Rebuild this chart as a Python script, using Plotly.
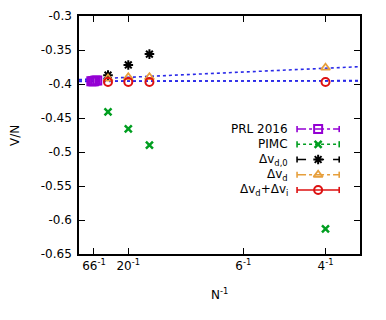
import plotly.graph_objects as go

# data (x is 1/N)
prl_x = [1 / 80, 1 / 72, 1 / 66, 1 / 60, 1 / 54]
prl_y = [-0.396, -0.396, -0.396, -0.395, -0.395]

pimc_x = [1 / 34, 1 / 20, 1 / 14, 1 / 4]
pimc_y = [-0.441, -0.466, -0.490, -0.613]

dvd0_x = [1 / 34, 1 / 20, 1 / 14]
dvd0_y = [-0.387, -0.372, -0.356]

dvd_x = [1 / 34, 1 / 20, 1 / 14, 1 / 4]
dvd_y = [-0.392, -0.390, -0.390, -0.376]

dvdi_x = [1 / 34, 1 / 20, 1 / 14, 1 / 4]
dvdi_y = [-0.397, -0.397, -0.397, -0.397]

fit_x = [0.0, 0.285]
fit_dvd = [-0.3935, -0.3745]
fit_dvdi_a = [-0.3956, -0.3956]
fit_dvdi_b = [-0.3962, -0.3950]

tick_n = [66, 20, 6, 4]
y_ticks = [-0.3, -0.35, -0.4, -0.45, -0.5, -0.55, -0.6, -0.65]

FONT = "DejaVu Sans, sans-serif"
PURPLE = "#9400d3"
GREEN = "#009e20"
BLACK = "#000000"
ORANGE = "#e69f3c"
RED = "#dd1111"
BLUE = "#2a2ae8"

series = [
    {"label": "PRL 2016", "x": prl_x, "y": prl_y, "color": PURPLE, "symbol": "square-open", "size": 8, "lw": 2, "dash": "dashdot"},
    {"label": "PIMC", "x": pimc_x, "y": pimc_y, "color": GREEN, "symbol": "x-thin-open", "size": 7, "lw": 2.5, "dash": "dot"},
    {"label": "Δv<sub>d,0</sub>", "x": dvd0_x, "y": dvd0_y, "color": BLACK, "symbol": "asterisk-open", "size": 8, "lw": 2, "dash": "dash"},
    {"label": "Δv<sub>d</sub>", "x": dvd_x, "y": dvd_y, "color": ORANGE, "symbol": "triangle-up-open", "size": 8, "lw": 1.8, "dash": "dashdot"},
    {"label": "Δv<sub>d</sub>+Δv<sub>i</sub>", "x": dvdi_x, "y": dvdi_y, "color": RED, "symbol": "circle-open", "size": 8, "lw": 2, "dash": "solid"},
]

fig = go.Figure()

for fit_y in [fit_dvd, fit_dvdi_a, fit_dvdi_b]:
    fig.add_trace(go.Scatter(x=fit_x, y=fit_y, mode="lines", showlegend=False,
                             line={"color": BLUE, "width": 1.6, "dash": "dot"}))

for s in series:
    fig.add_trace(go.Scatter(
        x=s["x"], y=s["y"], mode="markers", showlegend=False,
        marker={"symbol": s["symbol"], "size": s["size"], "color": s["color"],
                "line": {"color": s["color"], "width": s["lw"]}},
    ))

# hand-made key: text on the left, sample on the right (gnuplot style)
key_top = 0.525
key_step = 0.064
x_left, x_right, x_mark, x_text = 0.776, 0.926, 0.851, 0.75
for i, s in enumerate(series):
    ky = key_top - i * key_step
    fig.add_shape(type="line", xref="paper", yref="paper", x0=x_left, x1=x_right, y0=ky, y1=ky,
                  line={"color": s["color"], "width": 1.6, "dash": s["dash"]})
    for cx in (x_left, x_right):
        fig.add_shape(type="line", xref="paper", yref="paper", x0=cx, x1=cx, y0=ky - 0.013, y1=ky + 0.013,
                      line={"color": s["color"], "width": 1.6})
    fig.add_trace(go.Scatter(
        x=[x_mark], y=[ky], xaxis="x2", yaxis="y2", mode="markers", showlegend=False,
        marker={"symbol": s["symbol"], "size": s["size"], "color": s["color"],
                "line": {"color": s["color"], "width": s["lw"]}},
    ))
    fig.add_annotation(x=x_text, y=ky, xref="paper", yref="paper", text=s["label"], showarrow=False,
                       xanchor="right", yanchor="middle", font={"family": FONT, "size": 12, "color": "#000"})

# axis titles placed by hand
title_font = {"family": FONT, "size": 12, "color": "#000"}
fig.add_annotation(x=-0.228, y=0.5, xref="paper", yref="paper", text="V/N", textangle=-90,
                   showarrow=False, xanchor="center", yanchor="middle", font=title_font)
fig.add_annotation(x=0.5, y=-0.168, xref="paper", yref="paper", text="N<sup>-1</sup>",
                   showarrow=False, xanchor="center", yanchor="middle", font=title_font)

axis_common = {
    "showline": True, "linecolor": "#000", "linewidth": 1.5, "mirror": "ticks",
    "ticks": "inside", "ticklen": 6, "tickwidth": 1.2, "tickcolor": "#000",
    "showgrid": False, "zeroline": False, "automargin": False,
    "tickfont": {"family": FONT, "size": 12, "color": "#000"},
}

# page body has an 8px margin, so the figure is 8px smaller and margins shifted
fig.update_layout(
    width=378, height=312,
    margin={"l": 71, "r": 26, "t": 8, "b": 66},
    paper_bgcolor="#ffffff", plot_bgcolor="#ffffff",
    xaxis={**axis_common, "range": [0, 0.285],
           "tickvals": [1 / n for n in tick_n],
           "ticktext": [f"{n}<sup>-1</sup>" for n in tick_n]},
    yaxis={**axis_common, "range": [-0.65, -0.3], "ticklabelstandoff": 3,
           "tickvals": y_ticks, "ticktext": [f"{v:g}" for v in y_ticks]},
    xaxis2={"overlaying": "x", "range": [0, 1], "visible": False},
    yaxis2={"overlaying": "y", "range": [0, 1], "visible": False},
    showlegend=False,
)

fig.write_html("out.html")
